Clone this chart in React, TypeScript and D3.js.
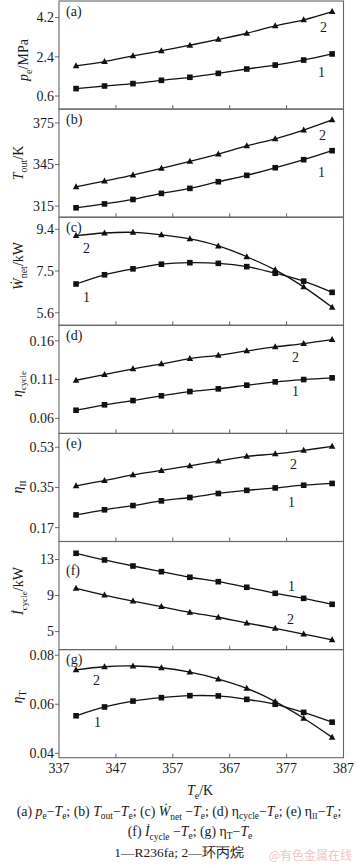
import React from "react";
import * as d3 from "d3";

// ---- data ----
const temps = [340, 345, 350, 355, 360, 365, 370, 375, 380, 385];
const xTicks = [337, 347, 357, 367, 377, 387];

const peR236fa = [0.94, 1.06, 1.17, 1.32, 1.46, 1.64, 1.84, 2.02, 2.25, 2.53];
const peCyclo = [1.98, 2.18, 2.44, 2.67, 2.93, 3.2, 3.48, 3.82, 4.09, 4.47];
const peTicks = [0.6, 2.4, 4.2];

const toutR236fa = [313.8, 316.6, 319.8, 324.2, 327.8, 332.6, 337.2, 342.7, 348.5, 355.0];
const toutCyclo = [328.9, 333.1, 337.4, 342.2, 347.3, 352.6, 358.4, 363.6, 369.9, 377.2];
const toutTicks = [315, 345, 375];

const wnetR236fa = [6.91, 7.33, 7.6, 7.81, 7.88, 7.85, 7.7, 7.4, 7.04, 6.53];
const wnetCyclo = [9.11, 9.23, 9.26, 9.15, 8.96, 8.64, 8.15, 7.55, 6.78, 5.85];
const wnetTicks = [5.6, 7.5, 9.4];

const etaCycleR236fa = [0.0704, 0.0774, 0.0829, 0.089, 0.0945, 0.098, 0.1027, 0.107, 0.11, 0.1122];
const etaCycleCyclo = [0.1091, 0.1164, 0.1238, 0.1302, 0.1371, 0.1413, 0.147, 0.1521, 0.1564, 0.1615];
const etaCycleTicks = [0.06, 0.11, 0.16];

const etaIIR236fa = [0.227, 0.25, 0.269, 0.29, 0.305, 0.323, 0.337, 0.348, 0.36, 0.368];
const etaIICyclo = [0.357, 0.381, 0.406, 0.426, 0.447, 0.468, 0.489, 0.5, 0.516, 0.534];
const etaIITicks = [0.17, 0.35, 0.53];

const icycleR236fa = [13.69, 12.95, 12.28, 11.65, 11.03, 10.54, 9.92, 9.25, 8.69, 8.03];
const icycleCyclo = [9.8, 9.06, 8.39, 7.76, 7.14, 6.59, 5.95, 5.36, 4.73, 4.07];
const icycleTicks = [5, 9, 13];

const etaTR236fa = [0.0553, 0.0589, 0.0613, 0.0627, 0.0635, 0.0634, 0.062, 0.06, 0.0567, 0.0527];
const etaTCyclo = [0.074, 0.0753, 0.0756, 0.0749, 0.0731, 0.0703, 0.0665, 0.0611, 0.0543, 0.0465];
const etaTTicks = [0.04, 0.06, 0.08];

// ---- layout ----
const W = 357;
const H = 866;
const LEFT = 59;
const RIGHT = 343.5;
const TOP = 1;
const PH = 108.1;
const FONT = "'Liberation Serif', 'Times New Roman', serif";
const INK = "#1a1a1a";

const x = d3.scaleLinear().domain([337, 387]).range([LEFT, RIGHT]);

type Panel = {
  tag: string;
  tagDy: number;
  domain: [number, number];
  ticks: number[];
  s1: number[];
  s2: number[];
  lab1: [number, number];
  lab2: [number, number];
  titleX: number;
  titleY: number;
  title: React.ReactNode;
};

const Sub = ({ t, size = 10, shift = 4 }: { t: string; size?: number; shift?: number }) => (
  <tspan baselineShift={-shift} fontSize={size}>{t}</tspan>
);

const panels: Panel[] = [
  {
    tag: "(a)", tagDy: 15, domain: [0, 4.96], ticks: peTicks, s1: peR236fa, s2: peCyclo,
    lab1: [318, 77], lab2: [320, 32], titleX: 28, titleY: 60,
    title: (<><tspan fontStyle="italic">p</tspan><Sub t="e" /><tspan>/MPa</tspan></>),
  },
  {
    tag: "(b)", tagDy: 15, domain: [307, 385], ticks: toutTicks, s1: toutR236fa, s2: toutCyclo,
    lab1: [318, 177], lab2: [319, 140], titleX: 23, titleY: 163,
    title: (<><tspan fontStyle="italic">T</tspan><Sub t="out" /><tspan>/K</tspan></>),
  },
  {
    tag: "(c)", tagDy: 15, domain: [5.03, 9.95], ticks: wnetTicks, s1: wnetR236fa, s2: wnetCyclo,
    lab1: [83, 302], lab2: [83, 253], titleX: 23, titleY: 266,
    title: (<><tspan fontStyle="italic">W{"\u0307"}</tspan><Sub t="net" /><tspan>/kW</tspan></>),
  },
  {
    tag: "(d)", tagDy: 15, domain: [0.0405, 0.18], ticks: etaCycleTicks, s1: etaCycleR236fa, s2: etaCycleCyclo,
    lab1: [292, 396], lab2: [292, 362], titleX: 22, titleY: 384,
    title: (<><tspan fontStyle="italic">η</tspan><Sub t="cycle" size={9} /></>),
  },
  {
    tag: "(e)", tagDy: 15, domain: [0.108, 0.592], ticks: etaIITicks, s1: etaIIR236fa, s2: etaIICyclo,
    lab1: [288, 507], lab2: [290, 469], titleX: 22, titleY: 487,
    title: (<><tspan fontStyle="italic">η</tspan><Sub t="II" size={9} /></>),
  },
  {
    tag: "(f)", tagDy: 33, domain: [3, 15], ticks: icycleTicks, s1: icycleR236fa, s2: icycleCyclo,
    lab1: [288, 591], lab2: [287, 624], titleX: 23, titleY: 591,
    title: (<><tspan fontStyle="italic">İ</tspan><Sub t="cycle" size={9} /><tspan>/kW</tspan></>),
  },
  {
    tag: "(g)", tagDy: 14, domain: [0.0382, 0.0823], ticks: etaTTicks, s1: etaTR236fa, s2: etaTCyclo,
    lab1: [94, 727], lab2: [93, 685], titleX: 22, titleY: 697,
    title: (<><tspan fontStyle="italic">η</tspan><Sub t="T" /></>),
  },
];

function Square({ cx, cy }: { cx: number; cy: number }) {
  return <rect x={cx - 2.8} y={cy - 2.8} width={5.6} height={5.6} fill="#111" />;
}
function Tri({ cx, cy }: { cx: number; cy: number }) {
  return <path d={`M${cx},${cy - 3.6}L${cx + 3.3},${cy + 2.4}L${cx - 3.3},${cy + 2.4}Z`} fill="#111" />;
}

function PanelView({ p, i }: { p: Panel; i: number }) {
  const top = TOP + i * PH;
  const bottom = top + PH;
  const y = d3.scaleLinear().domain(p.domain).range([bottom, top]);
  const line = d3
    .line<number>()
    .x((_, k) => x(temps[k]))
    .y((v) => y(v))
    .curve(d3.curveCatmullRom.alpha(0.5));
  return (
    <g>
      <path d={line(p.s1) || ""} fill="none" stroke="#111" strokeWidth={1.3} />
      <path d={line(p.s2) || ""} fill="none" stroke="#111" strokeWidth={1.3} />
      {p.s1.map((v, k) => (
        <Square key={"s" + k} cx={x(temps[k])} cy={y(v)} />
      ))}
      {p.s2.map((v, k) => (
        <Tri key={"t" + k} cx={x(temps[k])} cy={y(v)} />
      ))}
      <rect x={LEFT} y={top} width={RIGHT - LEFT} height={PH} fill="none" stroke="#666" strokeWidth={1.1} />
      {xTicks.slice(1, -1).map((t) => (
        <line key={t} x1={x(t)} x2={x(t)} y1={bottom} y2={bottom - 4} stroke="#666" strokeWidth={1} />
      ))}
      {p.ticks.map((t) => (
        <g key={t}>
          <line x1={LEFT - 4} x2={LEFT} y1={y(t)} y2={y(t)} stroke="#666" strokeWidth={1} />
          <text x={LEFT - 5} y={y(t)} dy="0.35em" textAnchor="end" fontSize={14} fill={INK}>
            {String(t)}
          </text>
        </g>
      ))}
      <text x={LEFT + 7} y={top + p.tagDy} fontSize={14} fill={INK}>{p.tag}</text>
      <text x={p.lab1[0]} y={p.lab1[1]} fontSize={14} fill={INK}>1</text>
      <text x={p.lab2[0]} y={p.lab2[1]} fontSize={14} fill={INK}>2</text>
      <text
        transform={`translate(${p.titleX},${p.titleY}) rotate(-90)`}
        textAnchor="middle"
        fontSize={14}
        fill={INK}
      >
        {p.title}
      </text>
    </g>
  );
}

export default function App() {
  const bottom = TOP + 7 * PH;
  return (
    <svg
      width={W}
      height={H}
      style={{ position: "absolute", left: 0, top: 0, background: "#fff" }}
      fontFamily={FONT}
    >
      <rect x={0} y={0} width={W} height={H} fill="#fff" />
      {panels.map((p, i) => (
        <PanelView key={p.tag} p={p} i={i} />
      ))}
      {xTicks.map((t) => (
        <text key={t} x={x(t)} y={bottom + 15} textAnchor="middle" fontSize={14} fill={INK}>
          {t}
        </text>
      ))}
      <text x={200} y={795} textAnchor="middle" fontSize={14} fill={INK}>
        <tspan fontStyle="italic">T</tspan>
        <Sub t="e" />
        <tspan>/K</tspan>
      </text>
      <text x={179} y={816} textAnchor="middle" fontSize={13.8} fill={INK}>
        <tspan>(a) </tspan>
        <tspan fontStyle="italic">p</tspan><Sub t="e" size={9.5} shift={3} />
        <tspan>−</tspan><tspan fontStyle="italic">T</tspan><Sub t="e" size={9.5} shift={3} />
        <tspan>; (b) </tspan>
        <tspan fontStyle="italic">T</tspan><Sub t="out" size={9.5} shift={3} />
        <tspan>−</tspan><tspan fontStyle="italic">T</tspan><Sub t="e" size={9.5} shift={3} />
        <tspan>; (c)  </tspan>
        <tspan fontStyle="italic">W{"\u0307"}</tspan><Sub t="net" size={9.5} shift={4} />
        <tspan> −</tspan><tspan fontStyle="italic">T</tspan><Sub t="e" size={9.5} shift={3} />
        <tspan>; (d) η</tspan><Sub t="cycle" size={9.5} shift={3} />
        <tspan>−</tspan><tspan fontStyle="italic">T</tspan><Sub t="e" size={9.5} shift={3} />
        <tspan>; (e) η</tspan><Sub t="II" size={8.5} shift={3} />
        <tspan>−</tspan><tspan fontStyle="italic">T</tspan><Sub t="e" size={9.5} shift={3} />
        <tspan>;</tspan>
      </text>
      <text x={190} y={836} textAnchor="middle" fontSize={13.8} fill={INK}>
        <tspan>(f)  </tspan>
        <tspan fontStyle="italic">İ</tspan><Sub t="cycle" size={9.5} shift={4} />
        <tspan> −</tspan><tspan fontStyle="italic">T</tspan><Sub t="e" size={9.5} shift={3} />
        <tspan>; (g) η</tspan><Sub t="T" size={9.5} shift={3} />
        <tspan>−</tspan><tspan fontStyle="italic">T</tspan><Sub t="e" size={9.5} shift={3} />
      </text>
      <text x={179} y={857} textAnchor="middle" fontSize={13.5} fill={INK}>
        1—R236fa; 2—环丙烷
      </text>
      <text x={352} y={860} textAnchor="end" fontSize={12} fill="#f0c4c4" fontFamily="'Noto Sans CJK SC', sans-serif">
        @有色金属在线
      </text>
    </svg>
  );
}
